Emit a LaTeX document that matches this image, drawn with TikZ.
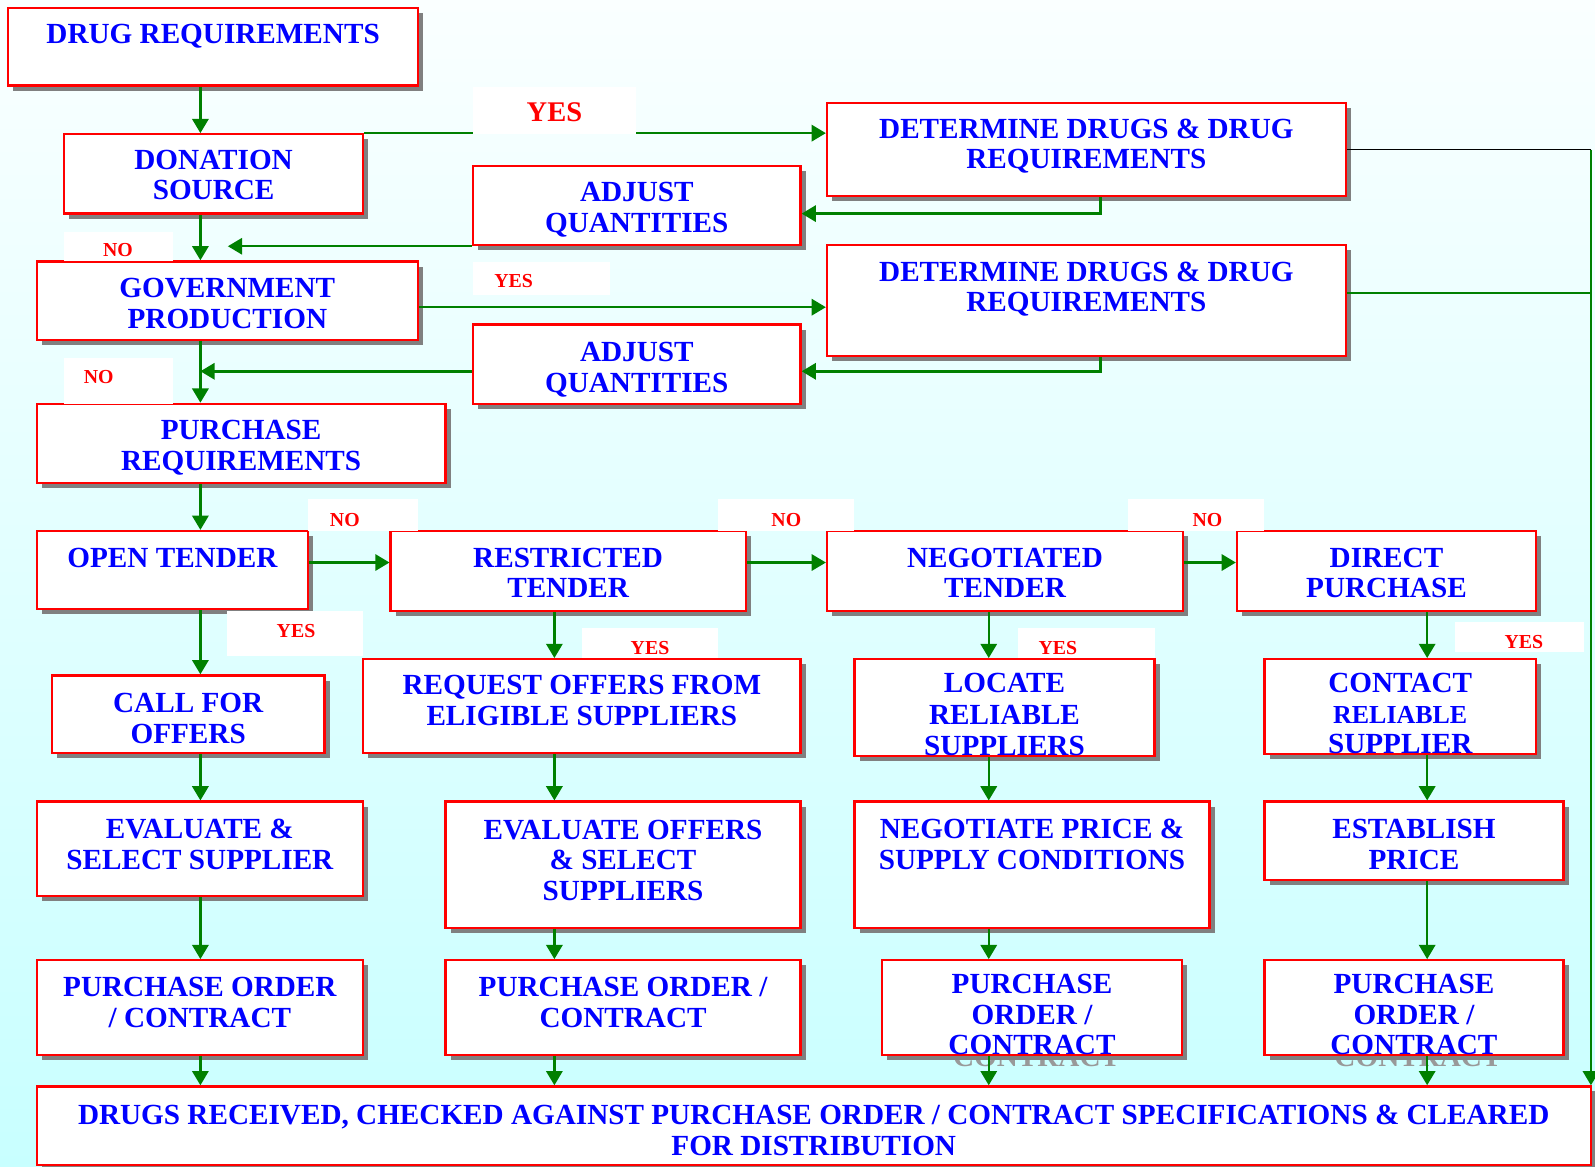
\documentclass[tikz,border=0pt]{standalone}
\usepackage{fontspec}
\setmainfont{Liberation Serif}
\usetikzlibrary{arrows.meta,shadows}
\definecolor{bgtop}{RGB}{250,255,255}
\definecolor{bgbot}{RGB}{200,255,255}
\definecolor{flow}{RGB}{0,128,0}
\tikzset{
  box/.style={draw=red, line width=2.2pt, fill=white, inner sep=0pt,
    drop shadow={shadow xshift=5pt, shadow yshift=-5pt, fill=gray, opacity=1},
    text=blue, align=center, font=\fontsize{28.7}{30}\selectfont\bfseries},
  lift/.style={text depth=#1},
  sink/.style={text height=#1, text depth=0pt},
  arr/.style={draw=flow, line width=2.4pt, -{Triangle[length=14pt,width=16pt]}},
  link/.style={draw=flow, line width=2.4pt},
  tag/.style={text=red, inner sep=0pt, font=\fontsize{19.5}{20}\selectfont\bfseries},
  ghost/.style={text=black!40, inner sep=0pt, font=\fontsize{28.7}{30}\selectfont\bfseries},
}

\begin{document}
\begin{tikzpicture}[x=1pt, y=-1pt]
		%%%%% START %%%%%
		\useasboundingbox (0,0) rectangle (1568,1147);
		\shade[top color=bgtop, bottom color=bgbot] (0,0) rectangle (1568,1147);
		
		\coordinate (colA) at (197,0);
		\coordinate (colB) at (545,0);
		\coordinate (colC) at (972,0);
		\coordinate (colD) at (1403,0);
		\coordinate (colE) at (1564,0);
		\coordinate (colF) at (1082,0);
		\coordinate (colG) at (224,0);
		\coordinate (rowA) at (0,210);
		\coordinate (rowD) at (0,147);
		\coordinate (rowE) at (0,288);
		\coordinate (rowF) at (0,302);
		\coordinate (rowG) at (0,365);
		\coordinate (rowH) at (0,553);
		
		\node[ghost] (ghost3) at (1019,1039) {CONTRACT};
		\node[ghost] (ghost4) at (1394,1039) {CONTRACT};
		
		% left column
		\node[box, minimum width=403pt, minimum height=76pt, lift=26pt] (drugreq) at (209.5,46) {DRUG REQUIREMENTS};
		\node[box, minimum width=294pt, minimum height=78pt, sink=51pt] (donation) at (210,171) {DONATION\\SOURCE};
		\node[box, minimum width=375pt, minimum height=77pt, sink=54pt] (govprod) at (223.5,295.5) {GOVERNMENT\\PRODUCTION};
		\node[box, minimum width=402pt, minimum height=78pt, sink=53pt] (purchreq) at (237,436) {PURCHASE\\REQUIREMENTS};
		
		% upper right
		\node[box, minimum width=510pt, minimum height=92pt, lift=11pt] (determine1) at (1068,147) {DETERMINE DRUGS \& DRUG\\REQUIREMENTS};
		\node[box, minimum width=322pt, minimum height=78pt, sink=53pt] (adjust1) at (626,202) {ADJUST\\QUANTITIES};
		\node[box, minimum width=510pt, minimum height=109pt, lift=27pt] (determine2) at (1068,295.5) {DETERMINE DRUGS \& DRUG\\REQUIREMENTS};
		\node[box, minimum width=322pt, minimum height=78pt, sink=55pt] (adjust2) at (626,358) {ADJUST\\QUANTITIES};
		
		% tenders
		\node[box, minimum width=267pt, minimum height=77pt, lift=25pt] (opentender) at (169.5,560.5) {OPEN TENDER};
		\node[box, minimum width=349pt, minimum height=79pt, sink=52pt] (restricted) at (558.5,561.5) {RESTRICTED\\TENDER};
		\node[box, minimum width=350pt, minimum height=79pt, sink=52pt] (negotiated) at (988,561.5) {NEGOTIATED\\TENDER};
		\node[box, minimum width=294pt, minimum height=79pt, sink=52pt] (direct) at (1363,561.5) {DIRECT\\PURCHASE};
		
		\node[box, minimum width=268pt, minimum height=76pt, sink=57pt] (callforoffers) at (185,702) {CALL FOR\\OFFERS};
		\node[box, minimum width=430pt, minimum height=92pt, lift=11pt] (requestoffers) at (572,694) {REQUEST OFFERS FROM\\ELIGIBLE SUPPLIERS};
		\node[box, minimum width=295pt, minimum height=95pt, sink=95pt, font=\fontsize{28.7}{31}\selectfont\bfseries] (locate) at (987.5,695.5) {LOCATE\\RELIABLE\\SUPPLIERS};
		\node[box, minimum width=267pt, minimum height=93pt, sink=93pt] (contact) at (1376.5,694.5) {CONTACT\\{\fontsize{25.5}{30}\selectfont RELIABLE}\\SUPPLIER};
		
		\node[box, minimum width=321pt, minimum height=93pt, lift=9pt] (evaluate1) at (196.5,834.5) {EVALUATE \&\\SELECT SUPPLIER};
		\node[box, minimum width=349pt, minimum height=124pt, lift=9pt] (evaluate2) at (612.5,850) {EVALUATE OFFERS\\\& SELECT\\SUPPLIERS};
		\node[box, minimum width=349pt, minimum height=124pt, lift=40pt] (negotiateprice) at (1014.5,850) {NEGOTIATE PRICE \&\\SUPPLY CONDITIONS};
		\node[box, minimum width=294pt, minimum height=77pt, sink=56pt] (establish) at (1390,826.5) {ESTABLISH\\PRICE};
		
		\node[box, minimum width=321pt, minimum height=93pt, lift=10pt] (po1) at (196.5,990.5) {PURCHASE ORDER\\/ CONTRACT};
		\node[box, minimum width=349pt, minimum height=93pt, lift=10pt] (po2) at (612.5,990.5) {PURCHASE ORDER /\\CONTRACT};
		\node[box, minimum width=295pt, minimum height=93pt, sink=93pt] (po3) at (1014.5,990.5) {PURCHASE\\ORDER /\\CONTRACT};
		\node[box, minimum width=294pt, minimum height=93pt, sink=93pt] (po4) at (1390,990.5) {PURCHASE\\ORDER /\\CONTRACT};
		
		\node[box, minimum width=1528pt, minimum height=77pt, sink=58pt] (received) at (800,1106.5) {DRUGS RECEIVED, CHECKED AGAINST PURCHASE ORDER / CONTRACT SPECIFICATIONS \& CLEARED\\FOR DISTRIBUTION};
		
		% main trunk
		\draw[arr] (drugreq.south -| colA) -- (donation.north -| colA);
		\draw[arr] (donation.south -| colA) -- (govprod.north -| colA);
		\draw[arr] (govprod.south -| colA) -- (purchreq.north -| colA);
		\draw[arr] (purchreq.south -| colA) -- (opentender.north -| colA);
		\draw[arr] (opentender.south -| colA) -- (callforoffers.north -| colA);
		\draw[arr] (callforoffers.south -| colA) -- (evaluate1.north -| colA);
		\draw[arr] (evaluate1.south -| colA) -- (po1.north -| colA);
		\draw[arr] (po1.south -| colA) -- (received.north -| colA);
		
		\draw[arr] (donation.north east) -- (donation.north east -| determine1.west);
		\draw[arr] (determine1.south -| colF) |- (adjust1.east |- rowA);
		\draw[arr] (adjust1.south west) -- (adjust1.south west -| colG);
		\draw[black, line width=1.3pt] (determine1.east |- rowD) -- (colE |- rowD);
		\draw[arr] (colE |- rowD) -- (received.north -| colE);
		
		\draw[arr] (govprod.east |- rowF) -- (determine2.west |- rowF);
		\draw[link] (determine2.east |- rowE) -- (colE |- rowE);
		\draw[arr] (determine2.south -| colF) |- (adjust2.east |- rowG);
		\draw[arr] (adjust2.west |- rowG) -- (colA |- rowG);
		
		\draw[arr] (opentender.east |- rowH) -- (restricted.west |- rowH);
		\draw[arr] (restricted.east |- rowH) -- (negotiated.west |- rowH);
		\draw[arr] (negotiated.east |- rowH) -- (direct.west |- rowH);
		
		\draw[arr] (restricted.south -| colB) -- (requestoffers.north -| colB);
		\draw[arr] (requestoffers.south -| colB) -- (evaluate2.north -| colB);
		\draw[arr] (evaluate2.south -| colB) -- (po2.north -| colB);
		\draw[arr] (po2.south -| colB) -- (received.north -| colB);
		
		\draw[arr] (negotiated.south -| colC) -- (locate.north -| colC);
		\draw[arr] (locate.south -| colC) -- (negotiateprice.north -| colC);
		\draw[arr] (negotiateprice.south -| colC) -- (po3.north -| colC);
		\draw[arr] (po3.south -| colC) -- (received.north -| colC);
		
		\draw[arr] (direct.south -| colD) -- (contact.north -| colD);
		\draw[arr] (contact.south -| colD) -- (establish.north -| colD);
		\draw[arr] (establish.south -| colD) -- (po4.north -| colD);
		\draw[arr] (po4.south -| colD) -- (received.north -| colD);
		
		% yes / no tags
		\fill[white] (465,86) rectangle (625,132);
		\node[tag, font=\fontsize{28}{28}\selectfont\bfseries] (yes1) at (545,110) {YES};
		\fill[white] (63,228) rectangle (170,257);
		\node[tag] (no1) at (116,246) {NO};
		\fill[white] (465,258) rectangle (600,290);
		\node[tag] (yes2) at (505,276) {YES};
		\fill[white] (63,352) rectangle (170,397);
		\node[tag] (no2) at (97,371) {NO};
		\fill[white] (303,491) rectangle (411,522);
		\node[tag] (no3) at (339,511) {NO};
		\fill[white] (706,491) rectangle (840,522);
		\node[tag] (no4) at (773,511) {NO};
		\fill[white] (1109,491) rectangle (1243,522);
		\node[tag] (no5) at (1187,511) {NO};
		\fill[white] (223,601) rectangle (357,645);
		\node[tag] (yes3) at (291,620) {YES};
		\fill[white] (572,617) rectangle (706,647);
		\node[tag] (yes4) at (639,637) {YES};
		\fill[white] (1001,617) rectangle (1135,647);
		\node[tag] (yes5) at (1040,637) {YES};
		\fill[white] (1430,611) rectangle (1557,641);
		\node[tag] (yes6) at (1498,631) {YES};
		
		%%%%% END %%%%%
\end{tikzpicture}
\end{document}
